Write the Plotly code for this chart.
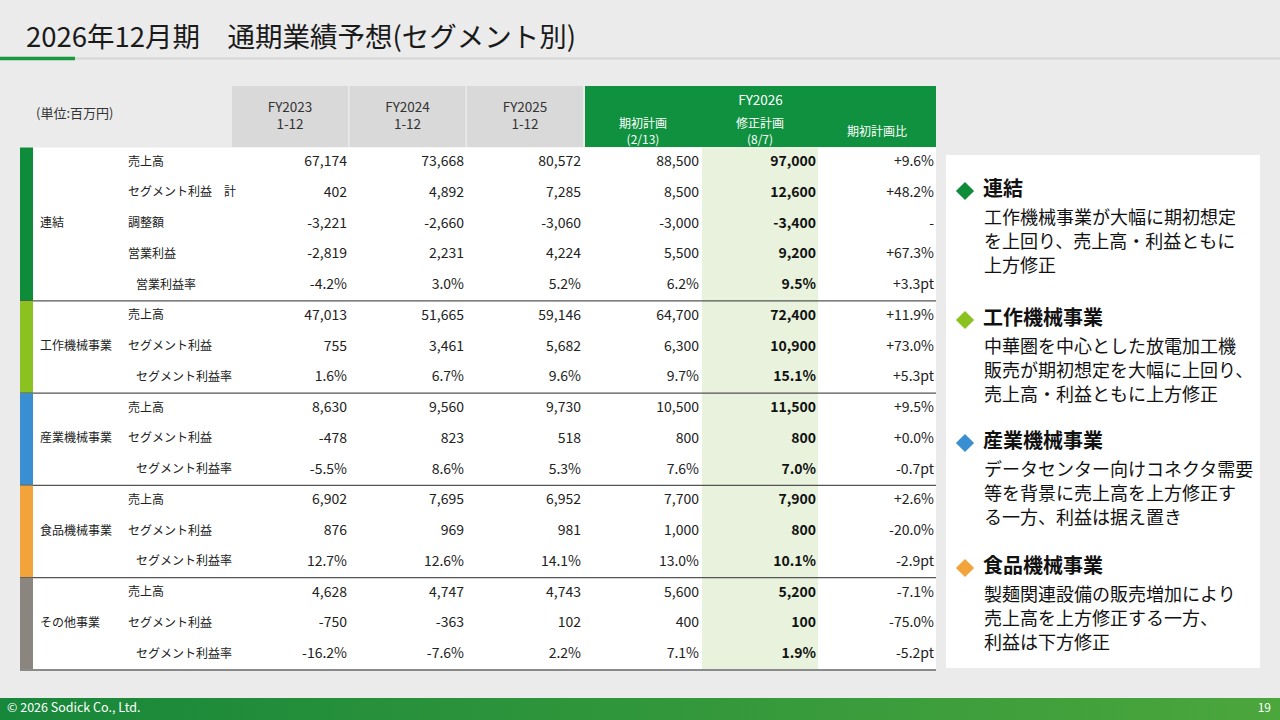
import plotly.graph_objects as go

# ---------------- data ----------------
title_text = "2026年12月期\u3000通期業績予想(セグメント別)"
unit_label = "(単位:百万円)"
segments = ["連結", "工作機械事業", "産業機械事業", "食品機械事業", "その他事業"]
segment_rows = [5, 3, 3, 3, 3]
segment_colors = ["#0e8c3a", "#8cc21f", "#3a8fd2", "#f2a33a", "#8b8580"]

items = ["売上高", "セグメント利益\u3000計", "調整額", "営業利益", "営業利益率",
         "売上高", "セグメント利益", "セグメント利益率",
         "売上高", "セグメント利益", "セグメント利益率",
         "売上高", "セグメント利益", "セグメント利益率",
         "売上高", "セグメント利益", "セグメント利益率"]
item_kind = ["amt", "amt", "amt", "amt", "pct",
             "amt", "amt", "pct",
             "amt", "amt", "pct",
             "amt", "amt", "pct",
             "amt", "amt", "pct"]

col_headers = ["FY2023<br>1-12", "FY2024<br>1-12", "FY2025<br>1-12"]
fy2026_header = "FY2026"
fy2026_sub = ["期初計画<br>(2/13)", "修正計画<br>(8/7)", "期初計画比"]

fy2023 = [67174, 402, -3221, -2819, -4.2, 47013, 755, 1.6, 8630, -478, -5.5,
          6902, 876, 12.7, 4628, -750, -16.2]
fy2024 = [73668, 4892, -2660, 2231, 3.0, 51665, 3461, 6.7, 9560, 823, 8.6,
          7695, 969, 12.6, 4747, -363, -7.6]
fy2025 = [80572, 7285, -3060, 4224, 5.2, 59146, 5682, 9.6, 9730, 518, 5.3,
          6952, 981, 14.1, 4743, 102, 2.2]
plan_initial = [88500, 8500, -3000, 5500, 6.2, 64700, 6300, 9.7, 10500, 800, 7.6,
                7700, 1000, 13.0, 5600, 400, 7.1]
plan_revised = [97000, 12600, -3400, 9200, 9.5, 72400, 10900, 15.1, 11500, 800, 7.0,
                7900, 800, 10.1, 5200, 100, 1.9]
vs_initial = [9.6, 48.2, None, 67.3, 3.3, 11.9, 73.0, 5.3, 9.5, 0.0, -0.7,
              2.6, -20.0, -2.9, -7.1, -75.0, -5.2]

notes_heads = ["連結", "工作機械事業", "産業機械事業", "食品機械事業"]
notes_body = [
    ["工作機械事業が大幅に期初想定", "を上回り、売上高・利益ともに", "上方修正"],
    ["中華圏を中心とした放電加工機", "販売が期初想定を大幅に上回り、", "売上高・利益ともに上方修正"],
    ["データセンター向けコネクタ需要", "等を背景に売上高を上方修正す", "る一方、利益は据え置き"],
    ["製麺関連設備の販売増加により", "売上高を上方修正する一方、", "利益は下方修正"],
]
footer_left = "© 2026 Sodick Co., Ltd."
footer_right = "19"

# ---------------- helpers ----------------
FONT = "Noto Sans CJK JP"


def fmt_val(v, kind):
    if kind == "pct":
        return f"{v:.1f}%"
    return f"{v:,}"


def fmt_vs(v, kind):
    if v is None:
        return "-"
    sign = "+" if v >= 0 else "-"
    unit = "pt" if kind == "pct" else "%"
    return f"{sign}{abs(v):.1f}{unit}"


ROW0, DY = 162.5, 30.75
n_rows = len(items)
row_y = [ROW0 + DY * i for i in range(n_rows)]

fig = go.Figure()
shapes = []

# background
shapes.append(dict(type="rect", x0=0, x1=1280, y0=0, y1=720, fillcolor="#ebebeb",
                   line_width=0, layer="below"))
# title underline
shapes.append(dict(type="line", x0=0, x1=1280, y0=58.5, y1=58.5,
                   line=dict(color="#d6d6d6", width=2), layer="below"))
shapes.append(dict(type="line", x0=0, x1=75, y0=58.5, y1=58.5,
                   line=dict(color="#1a9a3e", width=3.5), layer="below"))

# table body
TL, TR = 20, 936
top = 147.5
bottom = row_y[-1] + DY / 2
shapes.append(dict(type="rect", x0=TL, x1=TR, y0=top, y1=bottom, fillcolor="white",
                   line_width=0, layer="below"))
shapes.append(dict(type="rect", x0=702, x1=818, y0=top, y1=bottom, fillcolor="#e8f2dc",
                   line_width=0, layer="below"))

# header cells
hdr_x = [(232, 348), (349.5, 465.5), (467, 583)]
for (a, b), h in zip(hdr_x, col_headers):
    shapes.append(dict(type="rect", x0=a, x1=b, y0=86, y1=147, fillcolor="#d9d9d9",
                       line_width=0, layer="below"))
shapes.append(dict(type="rect", x0=585, x1=936, y0=86, y1=147, fillcolor="#0f9140",
                   line_width=0, layer="below"))

# segment colour bars and separators
start = 0
for seg, n, col in zip(segments, segment_rows, segment_colors):
    y0 = top if start == 0 else row_y[start] - DY / 2
    y1 = row_y[start + n - 1] + DY / 2
    shapes.append(dict(type="rect", x0=TL, x1=33, y0=y0, y1=y1, fillcolor=col,
                       line_width=0))
    last = (start + n == n_rows)
    shapes.append(dict(type="line", x0=TL, x1=TR, y0=y1, y1=y1,
                       line=dict(color="#8a8a8a" if last else "#555555",
                                 width=2 if last else 1.2)))
    start += n

# right notes panel
shapes.append(dict(type="rect", x0=946, x1=1260, y0=155, y1=668, fillcolor="white",
                   line_width=0, layer="below"))

# footer gradient bar
fig.add_trace(go.Scatter(x=[0, 1280, 1280, 0, 0], y=[698, 698, 720, 720, 698],
                         mode="lines", line_width=0, fill="toself",
                         fillgradient=dict(type="horizontal",
                                           colorscale=[[0, "#17873a"], [1, "#4ba63c"]]),
                         hoverinfo="skip", showlegend=False))

# ---------------- texts ----------------
def add_text(xs, ys, texts, pos, size, color="#222222", bold=False, family=FONT):
    if bold:
        texts = [f"<b>{t}</b>" for t in texts]
    fig.add_trace(go.Scatter(x=xs, y=ys, text=texts, mode="text", textposition=pos,
                             textfont=dict(family=family, size=size, color=color),
                             hoverinfo="skip", showlegend=False))


# title
add_text([26], [40], [title_text], "middle right", 27.5, "#1a1a1a")
add_text([36], [115], [unit_label], "middle right", 13, "#333333")

# header text
add_text([(a + b) / 2 for a, b in hdr_x], [117] * 3, col_headers, "middle center", 13.5,
         "#333333")
add_text([760.5], [102], [fy2026_header], "middle center", 13.5, "white")
add_text([643, 760, 877], [133, 133, 133], fy2026_sub, "middle center", 12, "white")

# segment labels
start = 0
seg_y = []
for n in segment_rows:
    seg_y.append((row_y[start] + row_y[start + n - 1]) / 2)
    start += n
add_text([40] * len(segments), seg_y, segments, "middle right", 12, "#222222")

# item labels
item_x = [136 if k == "pct" else 128 for k in item_kind]
add_text(item_x, row_y, items, "middle right", 12, "#222222")

# numeric columns
col_right = [347, 464, 581, 699]
for cx, vals in zip(col_right, [fy2023, fy2024, fy2025, plan_initial]):
    add_text([cx] * n_rows, row_y, [fmt_val(v, k) for v, k in zip(vals, item_kind)],
             "middle left", 14, "#222222")
add_text([816] * n_rows, row_y, [fmt_val(v, k) for v, k in zip(plan_revised, item_kind)],
         "middle left", 14, "#111111", bold=True)
add_text([934] * n_rows, row_y, [fmt_vs(v, k) for v, k in zip(vs_initial, item_kind)],
         "middle left", 14, "#222222")

# notes
head_y = [191, 320, 443, 568]
fig.add_trace(go.Scatter(x=[965] * 4, y=head_y, mode="markers",
                         marker=dict(symbol="diamond", size=14, color=segment_colors[:4]),
                         hoverinfo="skip", showlegend=False))
add_text([983] * 4, head_y, notes_heads, "middle right", 20, "#111111", bold=True)
bx, by, bt = [], [], []
for hy, lines in zip(head_y, notes_body):
    for j, ln in enumerate(lines):
        bx.append(984)
        by.append(hy + 28 + 24 * j)
        bt.append(ln)
add_text(bx, by, bt, "middle right", 18, "#111111")

# footer
add_text([7], [709], [footer_left], "middle right", 12.5, "white")
add_text([1271], [709], [footer_right], "middle left", 12, "white")

fig.update_layout(
    width=1280, height=720, margin=dict(l=0, r=0, t=0, b=0),
    paper_bgcolor="#ebebeb", plot_bgcolor="#ebebeb",
    xaxis=dict(range=[0, 1280], visible=False, fixedrange=True),
    yaxis=dict(range=[720, 0], visible=False, fixedrange=True),
    shapes=shapes, showlegend=False,
)
fig.write_html("out.html", config={"displayModeBar": False},
               post_script="document.body.style.margin='0';document.body.style.overflow='hidden';")
